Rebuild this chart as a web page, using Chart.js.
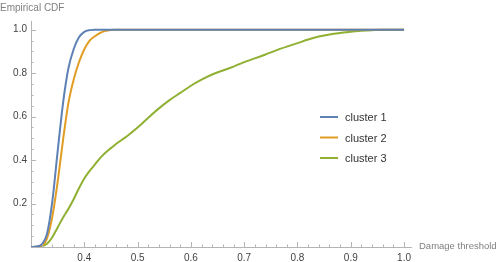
<!DOCTYPE html>
<html>
<head>
<meta charset="utf-8">
<script src="https://cdn.jsdelivr.net/npm/chart.js@4"></script>
<style>
  html, body { margin: 0; padding: 0; background: #fff; }
  #wrap { width: 498px; height: 262px; position: relative; }
</style>
</head>
<body>
<div id="wrap"><canvas id="cdf"></canvas></div>
<script>
// Damage threshold grid (x) and empirical CDF per cluster
const thresholds = [0.30, 0.31, 0.32, 0.33, 0.34, 0.35, 0.36, 0.37, 0.38, 0.39,
    0.40, 0.41, 0.42, 0.43, 0.44, 0.45, 0.46, 0.48, 0.50, 0.52,
    0.54, 0.56, 0.58, 0.60, 0.62, 0.64, 0.66, 0.68, 0.70, 0.72,
    0.74, 0.76, 0.78, 0.80, 0.82, 0.84, 0.86, 0.88, 0.90, 0.92,
    0.94, 0.96, 0.98, 1.00];

const cluster1 = [0, 0.002, 0.012, 0.06, 0.21, 0.44, 0.66, 0.82, 0.91, 0.965,
    0.99, 0.998, 1, 1, 1, 1, 1, 1, 1, 1,
    1, 1, 1, 1, 1, 1, 1, 1, 1, 1,
    1, 1, 1, 1, 1, 1, 1, 1, 1, 1,
    1, 1, 1, 1];

const cluster2 = [0, 0.001, 0.006, 0.04, 0.14, 0.30, 0.49, 0.66, 0.77, 0.85,
    0.91, 0.95, 0.97, 0.985, 0.995, 0.999, 1, 1, 1, 1,
    1, 1, 1, 1, 1, 1, 1, 1, 1, 1,
    1, 1, 1, 1, 1, 1, 1, 1, 1, 1,
    1, 1, 1, 1];

const cluster3 = [0, 0, 0.003, 0.015, 0.045, 0.09, 0.135, 0.175, 0.22, 0.27,
    0.315, 0.35, 0.38, 0.41, 0.435, 0.455, 0.475, 0.51, 0.55, 0.595,
    0.638, 0.676, 0.709, 0.742, 0.77, 0.794, 0.812, 0.83, 0.851, 0.868,
    0.886, 0.905, 0.922, 0.938, 0.955, 0.969, 0.978, 0.985, 0.991, 0.995,
    0.998, 1, 1, 1];

const seriesNames = ['cluster 1', 'cluster 2', 'cluster 3'];
const seriesColors = ['#5E81B5', '#E19C24', '#8FB032'];

const xMajorTicks = [0.4, 0.5, 0.6, 0.7, 0.8, 0.9, 1.0];
const yMajorTicks = [0.2, 0.4, 0.6, 0.8, 1.0];

const xTitle = 'Damage threshold';
const yTitle = 'Empirical CDF';

const AXIS_COLOR = '#b4b4b4';
const FONT = '"Liberation Sans", Arial, sans-serif';

function toPoints(ys) {
    return thresholds.map(function (x, i) { return { x: x, y: ys[i] }; });
}

// minor tick positions (x every 0.02, y every 0.05)
function minorTicks(from, to, step) {
    const out = [];
    for (let v = from; v <= to + 1e-9; v += step) out.push(Math.round(v * 1000) / 1000);
    return out;
}

// Mathematica-style inward ticks, axis titles and the legend
const decorPlugin = {
    id: 'decor',
    afterDraw(chart) {
        const ctx = chart.ctx;
        const xs = chart.scales.x;
        const ys = chart.scales.y;
        const x0 = xs.left;
        const y0 = ys.bottom;

        ctx.save();
        ctx.strokeStyle = AXIS_COLOR;
        ctx.lineWidth = 1;
        ctx.beginPath();
        minorTicks(0.32, 1.0, 0.02).forEach(function (v) {
            const px = Math.round(xs.getPixelForValue(v)) + 0.5;
            const major = xMajorTicks.some(function (m) { return Math.abs(m - v) < 1e-6; });
            ctx.moveTo(px, y0);
            ctx.lineTo(px, y0 - (major ? 5 : 2.5));
        });
        minorTicks(0.05, 1.0, 0.05).forEach(function (v) {
            const py = Math.round(ys.getPixelForValue(v)) + 0.5;
            const major = yMajorTicks.some(function (m) { return Math.abs(m - v) < 1e-6; });
            ctx.moveTo(x0, py);
            ctx.lineTo(x0 + (major ? 5 : 2.5), py);
        });
        ctx.stroke();

        // axis titles
        ctx.fillStyle = '#7f7f7f';
        ctx.textBaseline = 'middle';
        ctx.textAlign = 'left';
        ctx.font = '10px ' + FONT;
        ctx.fillText(yTitle, 0, 8);
        ctx.font = '9.5px ' + FONT;
        ctx.fillText(xTitle, xs.right + 8, y0 - 1);

        // legend
        const lx = 320, ly = 117, gap = 20.5;
        chart.data.datasets.forEach(function (ds, i) {
            const y = ly + i * gap;
            ctx.strokeStyle = ds.borderColor;
            ctx.lineWidth = 2;
            ctx.beginPath();
            ctx.moveTo(lx, y);
            ctx.lineTo(lx + 18, y);
            ctx.stroke();
            ctx.fillStyle = '#333';
            ctx.font = '11px ' + FONT;
            ctx.fillText(ds.label, lx + 25, y + 1);
        });
        ctx.restore();
    }
};

const ctx = document.getElementById('cdf');

new Chart(ctx, {
    type: 'line',
    data: {
        datasets: [cluster1, cluster2, cluster3].map(function (ys, i) {
            return {
                label: seriesNames[i],
                data: toPoints(ys),
                borderColor: seriesColors[i],
                borderWidth: 2,
                pointRadius: 0,
                cubicInterpolationMode: 'monotone',
                fill: false
            };
        })
    },
    options: {
        responsive: true,
        maintainAspectRatio: false,
        animation: false,
        layout: { padding: { top: 21, right: 87, left: 0, bottom: 0 } },
        plugins: {
            legend: { display: false },
            tooltip: { enabled: false }
        },
        scales: {
            x: {
                type: 'linear',
                min: 0.3,
                max: 1.013,
                grid: { display: false, drawTicks: false },
                border: { display: true, color: AXIS_COLOR, width: 1 },
                afterBuildTicks: function (scale) {
                    scale.ticks = xMajorTicks.map(function (v) { return { value: v }; });
                },
                afterFit: function (scale) { scale.height = 15; },
                ticks: {
                    padding: 5,
                    color: '#444',
                    font: { size: 10, family: FONT },
                    maxRotation: 0,
                    autoSkip: false,
                    callback: function (v) { return v.toFixed(1); }
                }
            },
            y: {
                type: 'linear',
                min: 0,
                max: 1.04,
                grid: { display: false, drawTicks: false },
                border: { display: true, color: AXIS_COLOR, width: 1 },
                afterBuildTicks: function (scale) {
                    scale.ticks = yMajorTicks.map(function (v) { return { value: v }; });
                },
                afterFit: function (scale) { scale.width = 31; },
                ticks: {
                    padding: 4,
                    color: '#444',
                    font: { size: 10, family: FONT },
                    autoSkip: false,
                    callback: function (v) { return v.toFixed(1); }
                }
            }
        }
    },
    plugins: [decorPlugin]
});
</script>
</body>
</html>
